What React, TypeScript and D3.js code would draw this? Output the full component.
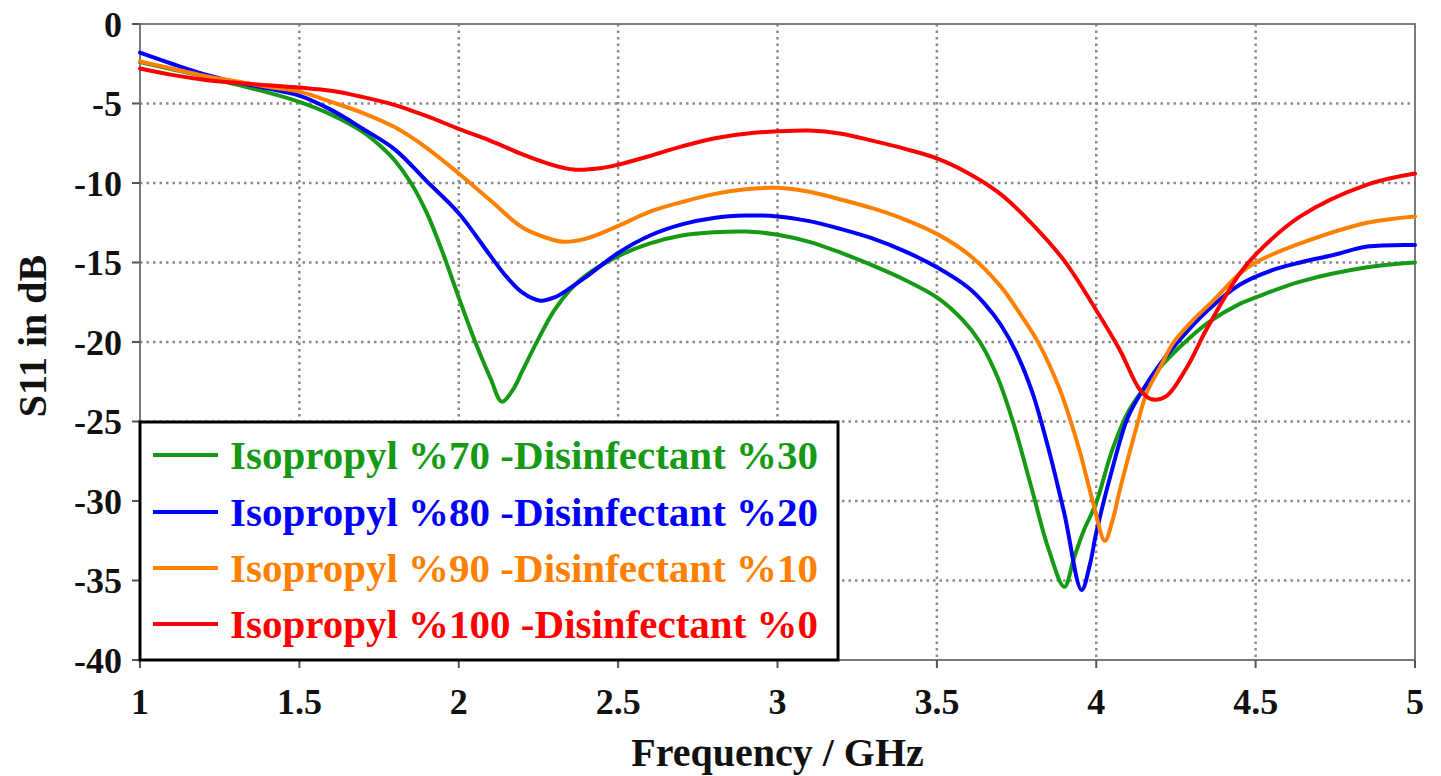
import React from "react";
import * as d3 from "d3";

const freqTicks = [1, 1.5, 2, 2.5, 3, 3.5, 4, 4.5, 5];
const dbTicks = [0, -5, -10, -15, -20, -25, -30, -35, -40];

const seriesNames = [
  "Isopropyl %70 -Disinfectant %30",
  "Isopropyl %80 -Disinfectant %20",
  "Isopropyl %90 -Disinfectant %10",
  "Isopropyl %100 -Disinfectant %0",
];
const seriesColors = ["#169a16", "#0000ff", "#ff8000", "#ff0000"];

const green: [number, number][] = [
  [1.0, -2.4], [1.1, -2.85], [1.2, -3.3], [1.3, -3.8], [1.4, -4.3], [1.5, -4.9],
  [1.6, -5.7], [1.7, -6.8], [1.75, -7.6], [1.8, -8.6], [1.85, -10.0], [1.9, -11.9], [1.95, -14.4],
  [2.0, -17.2], [2.05, -19.9], [2.1, -22.3], [2.135, -23.75], [2.17, -23.0], [2.2, -21.8],
  [2.25, -19.8], [2.3, -18.0], [2.35, -16.7], [2.4, -15.8], [2.5, -14.6], [2.6, -13.8],
  [2.7, -13.3], [2.8, -13.1], [2.9, -13.05], [3.0, -13.25], [3.1, -13.7], [3.2, -14.4],
  [3.3, -15.2], [3.4, -16.1], [3.5, -17.2], [3.58, -18.6], [3.635, -20.0], [3.69, -22.2],
  [3.74, -25.1], [3.8, -29.4], [3.85, -33.0], [3.9, -35.4], [3.93, -33.6], [3.96, -31.9],
  [4.0, -30.1], [4.05, -26.8], [4.1, -24.4], [4.15, -22.9], [4.2, -21.6],
  [4.263, -20.3], [4.35, -18.8], [4.45, -17.6], [4.5, -17.2], [4.64, -16.2], [4.85, -15.3],
  [5.0, -15.0],
];

const blue: [number, number][] = [
  [1.0, -1.8], [1.1, -2.5], [1.2, -3.15], [1.3, -3.65], [1.4, -4.05], [1.5, -4.5],
  [1.6, -5.4], [1.7, -6.6], [1.8, -7.9], [1.9, -9.9], [2.0, -11.9], [2.1, -14.6],
  [2.15, -15.9], [2.2, -16.9], [2.255, -17.4], [2.3, -17.2], [2.35, -16.6], [2.4, -15.9],
  [2.5, -14.4], [2.6, -13.3], [2.7, -12.6], [2.8, -12.2], [2.9, -12.05], [3.0, -12.1],
  [3.1, -12.4], [3.2, -12.9], [3.3, -13.5], [3.4, -14.3], [3.5, -15.3], [3.6, -16.6],
  [3.65, -17.6], [3.7, -18.9], [3.75, -20.7], [3.8, -23.2], [3.85, -26.7], [3.9, -30.8], [3.954, -35.6],
  [3.98, -34.0], [4.0, -32.0], [4.05, -28.0], [4.1, -24.7], [4.15, -22.9], [4.2, -21.4],
  [4.26, -19.9], [4.35, -18.0], [4.45, -16.4], [4.55, -15.5], [4.64, -15.0], [4.75, -14.5],
  [4.85, -14.0], [5.0, -13.9],
];

const orange: [number, number][] = [
  [1.0, -2.35], [1.1, -2.8], [1.2, -3.25], [1.3, -3.6], [1.4, -3.95], [1.5, -4.25],
  [1.6, -4.9], [1.7, -5.6], [1.8, -6.5], [1.9, -7.8], [2.0, -9.4], [2.1, -11.1],
  [2.2, -12.8], [2.3, -13.6], [2.33, -13.7], [2.4, -13.5], [2.5, -12.7], [2.6, -11.8],
  [2.7, -11.2], [2.8, -10.7], [2.9, -10.4], [3.0, -10.3], [3.1, -10.55], [3.2, -11.05],
  [3.3, -11.6], [3.4, -12.3], [3.5, -13.2], [3.6, -14.5], [3.7, -16.5], [3.76, -18.2],
  [3.82, -20.1], [3.886, -23.0], [3.92, -25.0], [3.95, -27.0], [3.99, -30.1], [4.027, -32.5], [4.05, -31.3],
  [4.074, -29.3], [4.1, -27.3], [4.127, -25.3], [4.158, -23.2], [4.2, -21.6], [4.24, -20.1],
  [4.3, -18.7], [4.367, -17.4], [4.45, -15.7], [4.5, -15.0], [4.64, -13.8], [4.85, -12.5],
  [5.0, -12.1],
];

const red: [number, number][] = [
  [1.0, -2.8], [1.1, -3.2], [1.2, -3.5], [1.3, -3.7], [1.4, -3.85], [1.5, -4.0],
  [1.6, -4.2], [1.7, -4.6], [1.8, -5.1], [1.9, -5.8], [2.0, -6.6], [2.1, -7.35],
  [2.2, -8.2], [2.3, -8.9], [2.36, -9.15], [2.45, -9.05], [2.5, -8.85], [2.6, -8.3],
  [2.7, -7.7], [2.8, -7.2], [2.9, -6.9], [3.0, -6.75], [3.1, -6.7], [3.2, -6.9],
  [3.3, -7.35], [3.4, -7.85], [3.5, -8.45], [3.6, -9.4], [3.7, -10.7], [3.8, -12.6],
  [3.9, -14.9], [4.0, -18.0], [4.074, -20.5], [4.137, -23.0], [4.174, -23.6], [4.22, -23.4],
  [4.284, -21.6], [4.346, -19.2], [4.45, -15.7], [4.5, -14.5], [4.64, -12.1], [4.85, -10.1],
  [5.0, -9.4],
];

const seriesData = [green, blue, orange, red];

const W = 1441;
const H = 776;
const L = 140, R = 1415, T = 24, B = 660;
const FONT = "Liberation Serif, Tinos, Times New Roman, DejaVu Serif, serif";

export default function App() {
  const x = d3.scaleLinear().domain([1, 5]).range([L, R]);
  const y = d3.scaleLinear().domain([0, -40]).range([T, B]);
  const line = d3
    .line<[number, number]>()
    .x((d) => x(d[0]))
    .y((d) => y(d[1]))
    .curve(d3.curveCatmullRom.alpha(0.5));

  const gridColor = "#8a8a8a";
  const legendTop = 422;
  const legendRight = 838;
  const rowY = [455, 512, 568, 624];
  const txt = { fontFamily: FONT, fontWeight: 700 as const };

  return (
    <svg
      width={W}
      height={H}
      style={{ position: "absolute", left: 0, top: 0, background: "#fff" }}
    >
      <rect x={0} y={0} width={W} height={H} fill="#fff" />
      {freqTicks.slice(1, -1).map((f) => (
        <line key={"gx" + f} x1={x(f)} x2={x(f)} y1={T} y2={B}
          stroke={gridColor} strokeWidth={2.5} strokeDasharray="2.5 4" />
      ))}
      {dbTicks.slice(1, -1).map((v) => (
        <line key={"gy" + v} x1={L} x2={R} y1={y(v)} y2={y(v)}
          stroke={gridColor} strokeWidth={2.5} strokeDasharray="2.5 4" />
      ))}
      <rect x={L} y={T} width={R - L} height={B - T} fill="none" stroke="#7a7a7a" strokeWidth={2} />
      {dbTicks.map((v) => (
        <line key={"ty" + v} x1={L - 8} x2={L} y1={y(v)} y2={y(v)} stroke="#555" strokeWidth={2} />
      ))}
      {freqTicks.map((f) => (
        <line key={"tx" + f} x1={x(f)} x2={x(f)} y1={B} y2={B + 8} stroke="#555" strokeWidth={2} />
      ))}
      {seriesData.map((s, i) => (
        <path key={"s" + i} d={line(s) || ""} fill="none" stroke={seriesColors[i]}
          strokeWidth={4} strokeLinejoin="round" strokeLinecap="round" />
      ))}
      <rect x={L} y={legendTop} width={legendRight - L} height={B - legendTop}
        fill="#fff" stroke="#000" strokeWidth={3} />
      {seriesNames.map((n, i) => (
        <g key={"lg" + i}>
          <line x1={153} x2={218} y1={rowY[i]} y2={rowY[i]} stroke={seriesColors[i]} strokeWidth={4} />
          <text x={230} y={rowY[i]} dy="0.35em" fill={seriesColors[i]}
            style={{ ...txt, fontSize: 41 }}>{n}</text>
        </g>
      ))}
      {dbTicks.map((v) => (
        <text key={"ly" + v} x={L - 18} y={y(v)} dy="0.35em" textAnchor="end"
          fill="#111" style={{ ...txt, fontSize: 36 }}>{v}</text>
      ))}
      {freqTicks.map((f) => (
        <text key={"lx" + f} x={x(f)} y={714} textAnchor="middle"
          fill="#111" style={{ ...txt, fontSize: 36 }}>{f}</text>
      ))}
      <text x={(L + R) / 2} y={766} textAnchor="middle" fill="#111"
        style={{ ...txt, fontSize: 40 }}>Frequency / GHz</text>
      <text transform={`translate(46, ${(T + B) / 2 - 6}) rotate(-90)`} textAnchor="middle"
        fill="#111" style={{ ...txt, fontSize: 40 }}>S11 in dB</text>
    </svg>
  );
}
